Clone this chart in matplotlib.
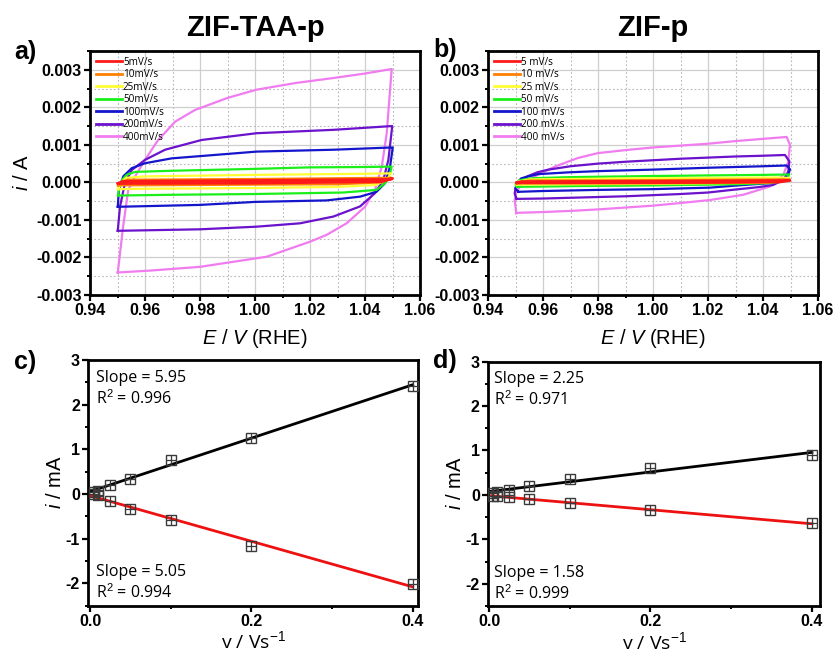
import numpy as np
import matplotlib
matplotlib.use('Agg')
import matplotlib.pyplot as plt
from matplotlib.ticker import MultipleLocator, FormatStrFormatter

plt.rcParams['font.family'] = ['Liberation Sans', 'DejaVu Sans']
plt.rcParams['axes.unicode_minus'] = False
plt.rcParams['mathtext.fontset'] = 'custom'
plt.rcParams['mathtext.rm'] = 'Liberation Sans'
plt.rcParams['mathtext.it'] = 'Liberation Sans:italic'

# ---- CV data, ZIF-TAA-p (panel a), E in V, i in A ----
taa_5_E = [0.9502, 0.952, 1.000, 1.048, 1.050, 1.046, 1.000, 0.9502]
taa_5_i = [-0.00003, 0.00003, 0.00005, 0.00008, 0.00010, 0.00002, -0.00002, -0.00003]
taa_10_E = [0.9502, 0.9515, 0.954, 1.000, 1.045, 1.0498, 1.046, 1.030, 1.000, 0.9502]
taa_10_i = [-0.00008, 0.00002, 0.00007, 0.00009, 0.00012, 0.00012, 0.0, -0.00005, -0.00006, -0.00008]
taa_25_E = [0.9502, 0.951, 0.953, 0.960, 1.000, 1.040, 1.0495, 1.048, 1.044, 1.030, 1.000, 0.960, 0.9502]
taa_25_i = [-0.00018, -0.00003, 0.00012, 0.00016, 0.00020, 0.00023, 0.00024, 0.00008, -0.00007, -0.00012,
            -0.00015, -0.00017, -0.00018]
taa_50_E = [0.9502, 0.9505, 0.9515, 0.9533, 0.9564, 0.970, 1.000, 1.020, 1.040, 1.0497, 1.0489, 1.0473,
            1.0442, 1.0321, 1.000, 0.970, 0.9502]
taa_50_i = [-0.00035, -0.00020, 0.00005, 0.00020, 0.00028, 0.00031, 0.00036, 0.00040, 0.00041, 0.00042,
            0.00016, -0.00002, -0.00020, -0.00027, -0.00031, -0.00033, -0.00035]
taa_100_E = [0.9501, 0.9505, 0.9521, 0.9552, 0.960, 0.9697, 0.9818, 1.0006, 1.0285, 1.0497, 1.0501, 1.0491,
             1.0473, 1.0442, 1.0382, 1.0261, 1.000, 0.980, 0.9501]
taa_100_i = [-0.00065, -0.00020, 0.00016, 0.00038, 0.00051, 0.00064, 0.00071, 0.00082, 0.00087, 0.00093,
             0.00093, 0.00042, -0.00002, -0.00025, -0.00038, -0.00048, -0.00052, -0.00060, -0.00065]
taa_200_E = [0.9501, 0.9509, 0.9527, 0.9552, 0.960, 0.9673, 0.9806, 1.0006, 1.0285, 1.0497, 1.0499, 1.0485,
             1.0467, 1.0436, 1.0382, 1.0285, 1.0164, 1.0006, 0.980, 0.9501]
taa_200_i = [-0.00129, -0.00065, -0.00002, 0.00033, 0.00060, 0.00087, 0.00113, 0.00131, 0.00140, 0.00150,
             0.00150, 0.00060, 0.00007, -0.00029, -0.00064, -0.00091, -0.00109, -0.00118, -0.00125, -0.00129]
taa_400_E = [0.9501, 0.9520, 0.9539, 0.9564, 0.960, 0.9648, 0.971, 0.9782, 0.990, 1.0006, 1.0150, 1.0285,
             1.0400, 1.0497, 1.0479, 1.0461, 1.0436, 1.0400, 1.0333, 1.0260, 1.0200, 1.0043, 0.980, 0.9618, 0.9501]
taa_400_i = [-0.00240, -0.00120, -0.00020, 0.00016, 0.00060, 0.00113, 0.00162, 0.00193, 0.00225, 0.00247,
             0.00265, 0.00278, 0.00290, 0.00302, 0.00131, 0.00042, -0.00020, -0.00065, -0.00109, -0.00140,
             -0.00158, -0.00198, -0.00225, -0.00235, -0.00240]

# ---- CV data, ZIF-p (panel b) ----
zif_5_E = [0.9505, 0.952, 1.000, 1.048, 1.0498, 1.046, 1.000, 0.9505]
zif_5_i = [-0.00001, 0.00002, 0.00003, 0.00005, 0.00005, 0.00001, -0.00001, -0.00001]
zif_10_E = [0.9505, 0.952, 0.955, 1.000, 1.046, 1.0498, 1.046, 1.030, 1.000, 0.9505]
zif_10_i = [-0.00003, 0.00002, 0.00005, 0.00006, 0.00008, 0.00008, 0.00001, -0.00001, -0.00002, -0.00003]
zif_25_E = [0.9505, 0.951, 0.955, 1.000, 1.045, 1.0495, 1.047, 1.040, 1.000, 0.9505]
zif_25_i = [-0.00006, 0.00002, 0.00008, 0.00011, 0.00013, 0.00012, 0.00003, -0.00001, -0.00004, -0.00006]
zif_50_E = [0.9505, 0.9500, 0.9515, 0.956, 0.970, 1.000, 1.040, 1.0495, 1.049, 1.047, 1.042, 1.030, 1.000,
            0.970, 0.9505]
zif_50_i = [-0.00012, -0.00004, 0.00006, 0.00011, 0.00014, 0.00017, 0.00020, 0.00021, 0.00011, 0.00003,
            -0.00002, -0.00005, -0.00008, -0.00010, -0.00012]
zif_100_E = [0.9510, 0.9500, 0.9505, 0.9521, 0.9582, 0.970, 0.980, 1.000, 1.020, 1.040, 1.0486, 1.0498,
             1.0492, 1.0474, 1.0425, 1.0328, 1.0207, 1.000, 0.980, 0.960, 0.9515, 0.9510]
zif_100_i = [-0.00025, -0.00016, -0.00002, 0.00011, 0.00022, 0.00027, 0.00030, 0.00034, 0.00039, 0.00043,
             0.00045, 0.00035, 0.00020, 0.00007, -0.00002, -0.00007, -0.00014, -0.00018, -0.00020, -0.00023,
             -0.00025, -0.00025]
zif_200_E = [0.9504, 0.9497, 0.9500, 0.9515, 0.9536, 0.958, 0.962, 0.970, 0.980, 0.990, 1.000, 1.010, 1.020,
             1.030, 1.040, 1.048, 1.0496, 1.0492, 1.0474, 1.0437, 1.038, 1.030, 1.020, 1.010, 1.000, 0.990,
             0.980, 0.970, 0.960, 0.9504]
zif_200_i = [-0.00044, -0.00030, -0.00015, 0.00001, 0.00014, 0.00027, 0.00034, 0.00043, 0.00050, 0.00055,
             0.00059, 0.00063, 0.00066, 0.00069, 0.00071, 0.00073, 0.00056, 0.00029, 0.00007, -0.00007,
             -0.00013, -0.00019, -0.00027, -0.00031, -0.00034, -0.00037, -0.00039, -0.00041, -0.00043, -0.00044]
zif_400_E = [0.9503, 0.9497, 0.9503, 0.9521, 0.957, 0.9643, 0.9727, 0.980, 0.990, 1.000, 1.010, 1.020, 1.030,
             1.040, 1.0486, 1.0498, 1.0492, 1.0474, 1.0425, 1.0328, 1.0207, 1.010, 1.000, 0.990, 0.980, 0.970,
             0.960, 0.951, 0.9503]
zif_400_i = [-0.00082, -0.00047, -0.00025, -0.00007, 0.00016, 0.00042, 0.00065, 0.00078, 0.00086, 0.00093,
             0.00098, 0.00103, 0.00110, 0.00116, 0.00121, 0.00100, 0.00056, 0.00020, -0.00011, -0.00033,
             -0.00047, -0.00055, -0.00062, -0.00067, -0.00072, -0.00076, -0.00079, -0.00081, -0.00082]

colors = ['#ff1a1a', '#ff8000', '#ffff33', '#1aef1a', '#1515cc', '#6a12cc', '#f07cf0']
labels_a = ['5mV/s', '10mV/s', '25mV/s', '50mV/s', '100mV/s', '200mV/s', '400mV/s']
labels_b = ['5 mV/s', '10 mV/s', '25 mV/s', '50 mV/s', '100 mV/s', '200 mV/s', '400 mV/s']

# ---- peak currents vs scan rate (mA) ----
scan = [0.005, 0.01, 0.025, 0.05, 0.1, 0.2, 0.4]
taa_anodic = [0.05, 0.075, 0.20, 0.34, 0.76, 1.25, 2.42]
taa_cathodic = [-0.01, -0.03, -0.17, -0.33, -0.59, -1.16, -2.02]
zif_anodic = [0.04, 0.06, 0.11, 0.20, 0.35, 0.60, 0.90]
zif_cathodic = [-0.015, -0.03, -0.05, -0.10, -0.19, -0.35, -0.64]

W, H = 835, 652


def rect(l, t, r, b):
    return [l / W, 1 - b / H, (r - l) / W, (b - t) / H]


def style(ax):
    for s in ax.spines.values():
        s.set_linewidth(2.0)
    ax.tick_params(which='major', direction='out', length=4, width=1.6, pad=2,
                   labelsize=11.5)
    ax.tick_params(which='minor', direction='out', length=2.5, width=1.4)
    for t in ax.get_xticklabels() + ax.get_yticklabels():
        t.set_fontweight('bold')


fig = plt.figure(figsize=(W / 100, H / 100), dpi=100)

ax_a = fig.add_axes(rect(90, 51, 420, 295))
ax_b = fig.add_axes(rect(488, 51, 818, 295))
ax_c = fig.add_axes(rect(88.4, 360, 418.3, 605.5))
ax_d = fig.add_axes(rect(488.2, 361.5, 820, 606))

cv_a = [(taa_5_E, taa_5_i), (taa_10_E, taa_10_i), (taa_25_E, taa_25_i), (taa_50_E, taa_50_i),
        (taa_100_E, taa_100_i), (taa_200_E, taa_200_i), (taa_400_E, taa_400_i)]
cv_b = [(zif_5_E, zif_5_i), (zif_10_E, zif_10_i), (zif_25_E, zif_25_i), (zif_50_E, zif_50_i),
        (zif_100_E, zif_100_i), (zif_200_E, zif_200_i), (zif_400_E, zif_400_i)]

for ax, cvs, labs in [(ax_a, cv_a, labels_a), (ax_b, cv_b, labels_b)]:
    # draw big loops first so small ones stay visible
    for k in range(6, -1, -1):
        E, i = cvs[k]
        ax.plot(E, i, color=colors[k], lw=1.6 if k > 0 else 2.0, label=labs[k], zorder=3 + (6 - k))
    ax.set_xlim(0.94, 1.06)
    ax.set_ylim(-0.003, 0.0035)
    ax.xaxis.set_major_locator(MultipleLocator(0.02))
    ax.xaxis.set_minor_locator(MultipleLocator(0.01))
    ax.yaxis.set_major_locator(MultipleLocator(0.001))
    ax.yaxis.set_minor_locator(MultipleLocator(0.0005))
    ax.xaxis.set_major_formatter(FormatStrFormatter('%.2f'))
    ax.yaxis.set_major_formatter(FormatStrFormatter('%.3f'))
    ax.grid(which='major', color='#cfcfcf', lw=0.9, ls='-', zorder=0)
    ax.grid(which='minor', color='#b8b8b8', lw=0.8, ls=(0, (1.5, 2)), zorder=0)
    ax.set_axisbelow(True)
    h, l = ax.get_legend_handles_labels()
    leg = ax.legend(h[::-1], l[::-1], loc='upper left', frameon=False,
                    prop={'family': 'Open Sans', 'size': 7.2}, handlelength=2.6,
                    handletextpad=0.1, labelspacing=0.15, borderaxespad=0.35, borderpad=0.25)
    for ln in leg.get_lines():
        ln.set_linewidth(2.0)
    ax.set_xlabel('$E$ / $V$ (RHE)', fontsize=14.5, labelpad=6)
    style(ax)

ax_a.set_ylabel('$i$ / A', fontsize=14.5)
ax_a.yaxis.set_label_coords(-0.175, 0.5)

for ax, an, ca, xr, txt in [(ax_c, taa_anodic, taa_cathodic, (-0.002, 0.407),
                             ['Slope = 5.95', 'R$^2$ = 0.996', 'Slope = 5.05', 'R$^2$ = 0.994']),
                            (ax_d, zif_anodic, zif_cathodic, (-0.001, 0.41),
                             ['Slope = 2.25', 'R$^2$ = 0.971', 'Slope = 1.58', 'R$^2$ = 0.999'])]:
    xs = np.array([0.0, max(scan)])
    pa = np.polyfit(scan, an, 1)
    pc = np.polyfit(scan, ca, 1)
    ax.plot(xs, np.polyval(pa, xs), color='black', lw=2.0, zorder=2)
    ax.plot(xs, np.polyval(pc, xs), color='#ee1111', lw=2.0, zorder=2)
    for ys in (an, ca):
        ax.plot(scan, ys, ls='none', marker='s', ms=6.5, mfc='none', mec='#3a3a3a', mew=1.0, zorder=3)
        ax.plot(scan, ys, ls='none', marker='+', ms=6.5, mec='#3a3a3a', mew=0.9, zorder=3)
    ax.set_xlim(*xr)
    ax.set_ylim(-2.5, 3)
    ax.xaxis.set_major_locator(MultipleLocator(0.2))
    ax.xaxis.set_minor_locator(MultipleLocator(0.1))
    ax.yaxis.set_major_locator(MultipleLocator(1))
    ax.yaxis.set_minor_locator(MultipleLocator(0.5))
    ax.xaxis.set_major_formatter(FormatStrFormatter('%.1f'))
    ax.yaxis.set_major_formatter(FormatStrFormatter('%d'))
    ax.set_xlabel('v / Vs$^{-1}$', fontsize=14, family='Open Sans', labelpad=1)
    ax.set_ylabel('$i$ / mA', fontsize=14.5)
    ax.yaxis.set_label_coords(-0.07, 0.5)
    kw = dict(transform=ax.transAxes, fontsize=11.5, family='Open Sans', va='center', ha='left')
    x0 = 0.024 if ax is ax_c else 0.016
    ax.text(x0, 0.927, txt[0], **kw)
    ax.text(x0, 0.842, txt[1], **kw)
    ax.text(x0, 0.136, txt[2], **kw)
    ax.text(x0, 0.051, txt[3], **kw)
    style(ax)

fig.text(255 / W, 1 - 28 / H, 'ZIF-TAA-p', fontsize=21, fontweight='bold', ha='center', va='center')
fig.text(653 / W, 1 - 28 / H, 'ZIF-p', fontsize=21, fontweight='bold', ha='center', va='center')
for x, y, s in [(25, 52, 'a)'), (445, 50, 'b)'), (25, 362, 'c)'), (445, 361, 'd)')]:
    fig.text(x / W, 1 - y / H, s, fontsize=18, fontweight='bold', ha='center', va='center')

fig.savefig('out.png', dpi=100)
